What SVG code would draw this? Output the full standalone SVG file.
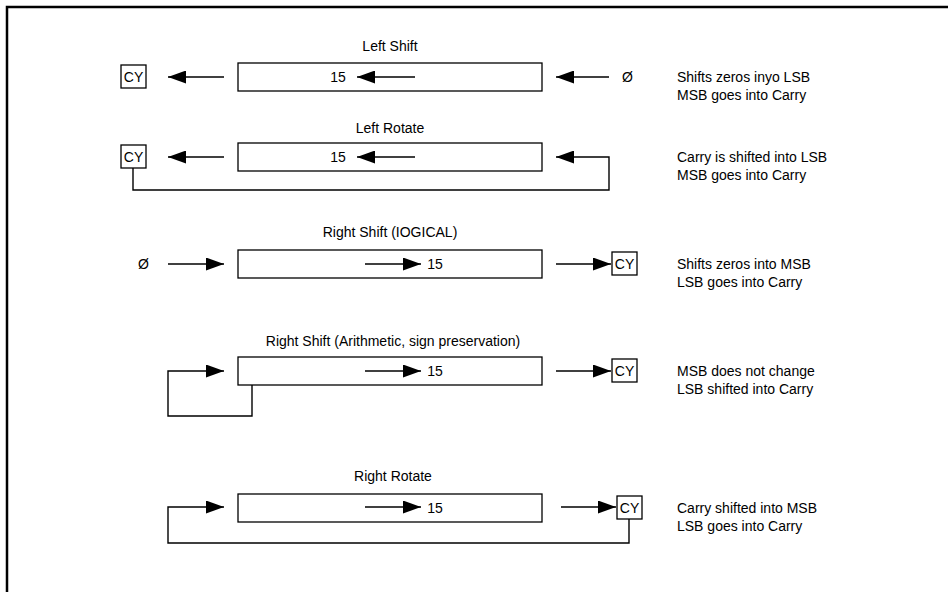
<svg xmlns="http://www.w3.org/2000/svg" width="948" height="592" viewBox="0 0 948 592">
<style>
text{font-family:"Liberation Sans",Arial,sans-serif;font-size:14px;fill:#000}
.t{text-anchor:middle}
.reg{fill:#fff;stroke:#000;stroke-width:1.3}
.cy{fill:#fff;stroke:#000;stroke-width:1.3}
.ar{fill:none;stroke:#000;stroke-width:1.4;marker-end:url(#ah)}
</style>
<defs>
<marker id="ah" markerUnits="userSpaceOnUse" markerWidth="18" markerHeight="13" refX="18" refY="6.5" orient="auto">
<path d="M0,0 L18,6.5 L0,13 Z" fill="#000"/>
</marker>
</defs>
<rect width="948" height="592" fill="#fff"/>
<path d="M7,592 V7 H948" fill="none" stroke="#000" stroke-width="2.5"/>

<g id="row1">
<text class="t" x="390" y="51">Left Shift</text>
<rect class="reg" x="238" y="63" width="304" height="28"/>
<text class="t" x="338" y="82">15</text>
<rect class="cy" x="121" y="65" width="25" height="23"/>
<text class="t" x="133.5" y="82">CY</text>
<text x="622" y="82">Ø</text>
<text x="677" y="82">Shifts zeros inyo LSB</text>
<text x="677" y="100">MSB goes into Carry</text>
</g>
<g id="row2">
<text class="t" x="390" y="133">Left Rotate</text>
<rect class="reg" x="238" y="143" width="304" height="28"/>
<text class="t" x="338" y="162">15</text>
<rect class="cy" x="121" y="145" width="25" height="23"/>
<text class="t" x="133.5" y="162">CY</text>
<text x="677" y="162">Carry is shifted into LSB</text>
<text x="677" y="180">MSB goes into Carry</text>
</g>
<g id="row3">
<text class="t" x="390" y="237">Right Shift (IOGICAL)</text>
<rect class="reg" x="238" y="250" width="304" height="28"/>
<text class="t" x="435" y="269">15</text>
<text x="138" y="269">Ø</text>
<rect class="cy" x="612" y="252" width="25" height="23"/>
<text class="t" x="624.5" y="269">CY</text>
<text x="677" y="269">Shifts zeros into MSB</text>
<text x="677" y="287">LSB goes into Carry</text>
</g>
<g id="row4">
<text class="t" x="393" y="346">Right Shift (Arithmetic, sign preservation)</text>
<rect class="reg" x="238" y="357" width="304" height="28"/>
<text class="t" x="435" y="376">15</text>
<rect class="cy" x="612" y="359" width="25" height="23"/>
<text class="t" x="624.5" y="376">CY</text>
<text x="677" y="376">MSB does not change</text>
<text x="677" y="394">LSB shifted into Carry</text>
</g>
<g id="row5">
<text class="t" x="393" y="481">Right Rotate</text>
<rect class="reg" x="238" y="494" width="304" height="28"/>
<text class="t" x="435" y="513">15</text>
<rect class="cy" x="617" y="496" width="25" height="23"/>
<text class="t" x="629.5" y="513">CY</text>
<text x="677" y="513">Carry shifted into MSB</text>
<text x="677" y="531">LSB goes into Carry</text>
</g>

<g id="connectors">
<path class="ar" d="M224,77 H168"/>
<path class="ar" d="M415,77 H357"/>
<path class="ar" d="M609,77 H556"/>

<path class="ar" d="M224,157 H168"/>
<path class="ar" d="M415,157 H357"/>
<path class="ar" d="M133,168 V190 H609 V157 H556"/>

<path class="ar" d="M168,264 H224"/>
<path class="ar" d="M365,264 H421"/>
<path class="ar" d="M556,264 H611"/>

<path class="ar" d="M252,385 V416 H168 V371 H224"/>
<path class="ar" d="M365,371 H421"/>
<path class="ar" d="M556,371 H611"/>

<path class="ar" d="M629,519 V543 H168 V507 H224"/>
<path class="ar" d="M365,507 H421"/>
<path class="ar" d="M561,507 H616"/>
</g>
</svg>
